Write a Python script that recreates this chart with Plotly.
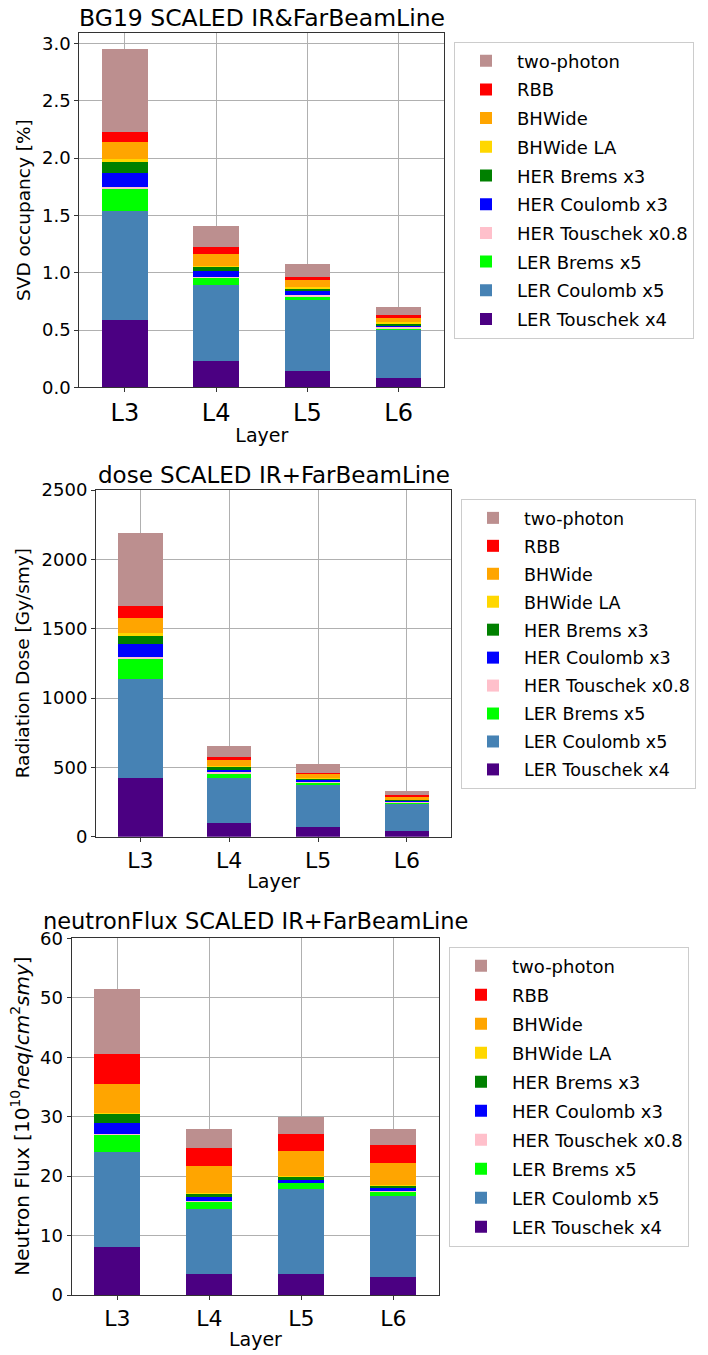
import plotly.graph_objects as go

layers = ["L3", "L4", "L5", "L6"]

# background sources, bottom of the stack first
sources = [
    "LER Touschek x4", "LER Coulomb x5", "LER Brems x5", "HER Touschek x0.8",
    "HER Coulomb x3", "HER Brems x3", "BHWide LA", "BHWide", "RBB", "two-photon",
]
colors = [
    "#4B0082", "#4682B4", "#00FF00", "#FFC0CB",
    "#0000FF", "#008000", "#FFD700", "#FFA500", "#FF0000", "#BC8F8F",
]

# SVD occupancy [%] per source and layer (L3, L4, L5, L6)
occ_ler_touschek = [0.59, 0.23, 0.143, 0.082]
occ_ler_coulomb = [0.95, 0.66, 0.621, 0.419]
occ_ler_brems = [0.20, 0.07, 0.035, 0.018]
occ_her_touschek = [0.01, 0.006, 0.008, 0.004]
occ_her_coulomb = [0.12, 0.046, 0.035, 0.022]
occ_her_brems = [0.10, 0.044, 0.027, 0.017]
occ_bhwide_la = [0.02, 0.006, 0.006, 0.007]
occ_bhwide = [0.15, 0.098, 0.064, 0.037]
occ_rbb = [0.09, 0.062, 0.026, 0.026]
occ_two_photon = [0.72, 0.184, 0.113, 0.071]

# radiation dose [Gy/smy]
dose_ler_touschek = [420, 101, 72, 43]
dose_ler_coulomb = [715, 325, 298, 195]
dose_ler_brems = [152, 31, 20, 10]
dose_her_touschek = [7, 6, 5, 3]
dose_her_coulomb = [94, 20, 16, 7]
dose_her_brems = [62, 22, 7, 7]
dose_bhwide_la = [22, 5, 3, 3]
dose_bhwide = [108, 46, 34, 21]
dose_rbb = [80, 21, 7, 14]
dose_two_photon = [530, 80, 60, 29]

# neutron flux [1e10 neq/cm^2/smy]
nf_ler_touschek = [8.13, 3.54, 3.6, 3.08]
nf_ler_coulomb = [15.97, 10.96, 14.3, 13.6]
nf_ler_brems = [2.8, 1.2, 0.9, 0.7]
nf_her_touschek = [0.2, 0.1, 0.1, 0.1]
nf_her_coulomb = [1.9, 0.7, 0.5, 0.55]
nf_her_brems = [1.4, 0.5, 0.5, 0.35]
nf_bhwide_la = [0.2, 0.2, 0.1, 0.1]
nf_bhwide = [4.9, 4.5, 4.3, 3.8]
nf_rbb = [5.1, 3.1, 2.7, 2.9]
nf_two_photon = [10.9, 3.15, 2.95, 2.8]

occupancy = [occ_ler_touschek, occ_ler_coulomb, occ_ler_brems, occ_her_touschek,
             occ_her_coulomb, occ_her_brems, occ_bhwide_la, occ_bhwide, occ_rbb,
             occ_two_photon]
dose = [dose_ler_touschek, dose_ler_coulomb, dose_ler_brems, dose_her_touschek,
        dose_her_coulomb, dose_her_brems, dose_bhwide_la, dose_bhwide, dose_rbb,
        dose_two_photon]
neutron = [nf_ler_touschek, nf_ler_coulomb, nf_ler_brems, nf_her_touschek,
           nf_her_coulomb, nf_her_brems, nf_bhwide_la, nf_bhwide, nf_rbb,
           nf_two_photon]

W, H = 708, 1355
FONT = "DejaVu Sans"


def px_x(v):
    return v / W


def px_y(v):
    return 1 - v / H


panels = [
    dict(data=occupancy, title="BG19 SCALED IR&FarBeamLine", tsize=23.5,
         ytitle="SVD occupancy [%]", ysize=18.5, yrange=[0, 3.095], dtick=0.5,
         tickformat=".1f", box=(79.3, 444.3, 32.7, 387.3), legend=(454, 41.5),
         lfont=18, lgap=2.3, xtick=24, title_y=17.5, ytitle_x=23),
    dict(data=dose, title="dose SCALED IR+FarBeamLine", tsize=23,
         ytitle="Radiation Dose [Gy/smy]", ysize=18.5, yrange=[0, 2500], dtick=500,
         tickformat="d", box=(96, 451.3, 490, 836.7), legend=(461, 499),
         lfont=17.5, lgap=2.2, xtick=22, title_y=475, ytitle_x=22),
    dict(data=neutron, title="neutronFlux SCALED IR+FarBeamLine", tsize=22.5,
         ytitle="Neutron Flux [10<sup>10</sup><i>neq</i>/<i>cm</i><sup>2</sup><i>smy</i>]",
         ysize=20, yrange=[0, 60], dtick=10, tickformat="d",
         box=(71.5, 439.3, 938.3, 1295), legend=(449, 946.5), lfont=18, lgap=2.6,
         xtick=22, title_y=921, ytitle_x=20),
]

fig = go.Figure()
annotations = []
layout = {}

for i, p in enumerate(panels):
    n = "" if i == 0 else str(i + 1)
    xa, ya = "x" + n, "y" + n
    leg = "legend" + n
    for k, (name, color, vals) in enumerate(zip(sources, colors, p["data"])):
        fig.add_trace(go.Bar(
            x=layers, y=vals, name=name, marker=dict(color=color, line=dict(width=0)),
            width=0.5, xaxis=xa, yaxis=ya, legend=leg,
            legendgroup=f"{leg}-{name}", legendrank=1000 - k,
        ))
    x0, x1, y0, y1 = p["box"]
    common = dict(showline=True, linecolor="#333333", linewidth=1, mirror=True,
                  showgrid=True, gridcolor="#b0b0b0", gridwidth=1,
                  ticks="outside", ticklen=4, tickcolor="#333333", zeroline=False)
    layout["xaxis" + n] = dict(
        domain=[px_x(x0), px_x(x1)], anchor=ya, range=[-0.5, 3.5],
        tickfont=dict(size=p["xtick"], family=FONT, color="black"),
        title=dict(text="Layer", font=dict(size=19, family=FONT, color="black"), standoff=2),
        **common)
    layout["yaxis" + n] = dict(
        domain=[px_y(y1), px_y(y0)], anchor=xa, range=p["yrange"], dtick=p["dtick"],
        tickformat=p["tickformat"],
        tickfont=dict(size=18, family=FONT, color="black"),
        **common)
    lx, ly = p["legend"]
    layout[leg] = dict(
        x=px_x(lx), y=px_y(ly), xanchor="left", yanchor="top",
        xref="paper", yref="paper",
        font=dict(size=p["lfont"], family=FONT, color="black"),
        bgcolor="white", bordercolor="#cccccc", borderwidth=1,
        traceorder="grouped", tracegroupgap=p["lgap"], itemwidth=52,
    )
    annotations.append(dict(
        text=p["title"], x=px_x((x0 + x1) / 2), y=px_y(p["title_y"]),
        xref="paper", yref="paper", xanchor="center", yanchor="middle",
        showarrow=False, font=dict(size=p["tsize"], family=FONT, color="black")))
    annotations.append(dict(
        text=p["ytitle"], x=px_x(p["ytitle_x"]), y=px_y((y0 + y1) / 2),
        xref="paper", yref="paper", xanchor="center", yanchor="middle",
        textangle=-90, showarrow=False,
        font=dict(size=p["ysize"], family=FONT, color="black")))

fig.update_layout(
    width=W, height=H, barmode="stack",
    margin=dict(l=0, r=0, t=0, b=0, autoexpand=False),
    paper_bgcolor="white", plot_bgcolor="white",
    font=dict(family=FONT, color="black"),
    annotations=annotations,
    **layout,
)

fig.write_html("out.html")
